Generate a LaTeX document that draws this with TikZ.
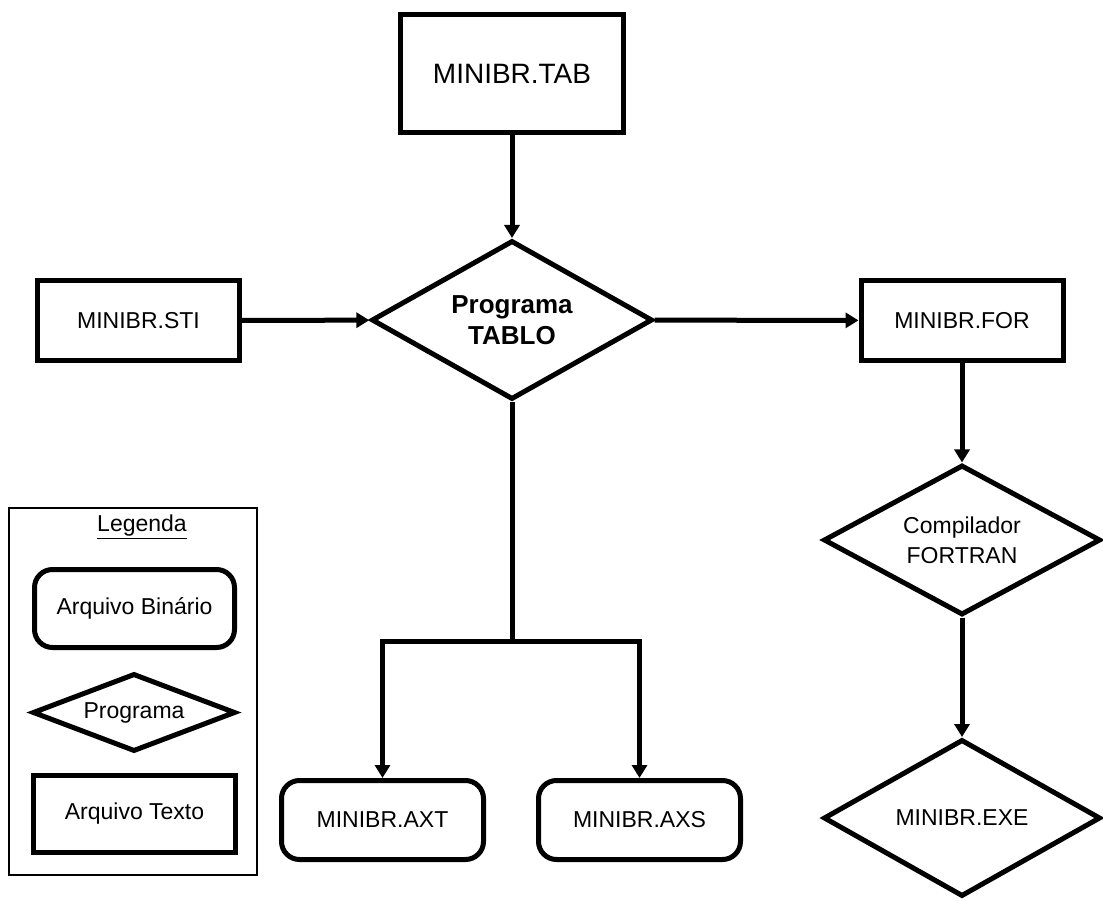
\documentclass[tikz,border=0pt]{standalone}
\usepackage{fontspec}
\setmainfont{Liberation Sans}
\usetikzlibrary{shapes.geometric,arrows.meta}

\tikzset{
  texto/.style={draw, line width=5pt, minimum width=202pt, minimum height=80pt, inner sep=0pt, font=\fontsize{23}{30}\selectfont},
  binario/.style={texto, rounded corners=18pt},
  programa/.style={draw, diamond, line width=5pt, inner sep=0pt, align=center, font=\fontsize{23}{30}\selectfont},
  seta/.style={line width=5pt, -{Triangle[width=15pt,length=13pt]}},
  linha/.style={line width=5pt}
}

\begin{document}
\begin{tikzpicture}[x=1pt,y=-1pt]
\useasboundingbox (0,0) rectangle (1103,901);
\node[texto, minimum width=223pt, minimum height=118pt, font=\fontsize{28}{30}\selectfont] (tab) at (512,73.5) {MINIBR.TAB};
\node[programa, aspect=1.76, minimum width=281pt, minimum height=159pt, font=\fontsize{26}{31}\selectfont\bfseries] (tablo) at (512,320) {Programa\\TABLO};
\node[texto] (sti) at (138.5,320.5) {MINIBR.STI};
\node[texto] (for) at (962,320.5) {MINIBR.FOR};
\node[programa, aspect=1.84, minimum width=277pt, minimum height=150pt] (comp) at (962,540) {Compilador\\FORTRAN};
\node[programa, aspect=1.76, minimum width=277pt, minimum height=157pt] (exe) at (962,818) {MINIBR.EXE};
\node[binario, minimum height=79pt] (axt) at (382.5,820) {MINIBR.AXT};
\node[binario, minimum height=79pt] (axs) at (639.5,820) {MINIBR.AXS};
\coordinate (ramo) at (512,641);
\draw[seta] (tab) -- (tablo);
\draw[seta] (sti) -- (tablo);
\draw[seta] (tablo) -- (for);
\draw[seta] (for) -- (comp);
\draw[seta] (comp) -- (exe);
\draw[linha] (tablo.south) -- (ramo);
\draw[seta] (ramo) -| (axt);
\draw[seta] (ramo) -| (axs);
\node[draw, line width=1.2pt, minimum width=248pt, minimum height=367pt] (legenda) at (133,691.5) {};
\node[font=\fontsize{23}{30}\selectfont] (titulo) at (142,527) {\underline{Legenda}};
\node[binario, minimum width=200pt, minimum height=78pt] (lbin) at (134.5,608.5) {Arquivo Binário};
\node[programa, aspect=2.6, minimum width=203pt, minimum height=78pt] (lprog) at (134,712.5) {Programa};
\node[texto, minimum width=202pt, minimum height=77pt] (ltex) at (134.5,814) {Arquivo Texto};
\end{tikzpicture}
\end{document}
